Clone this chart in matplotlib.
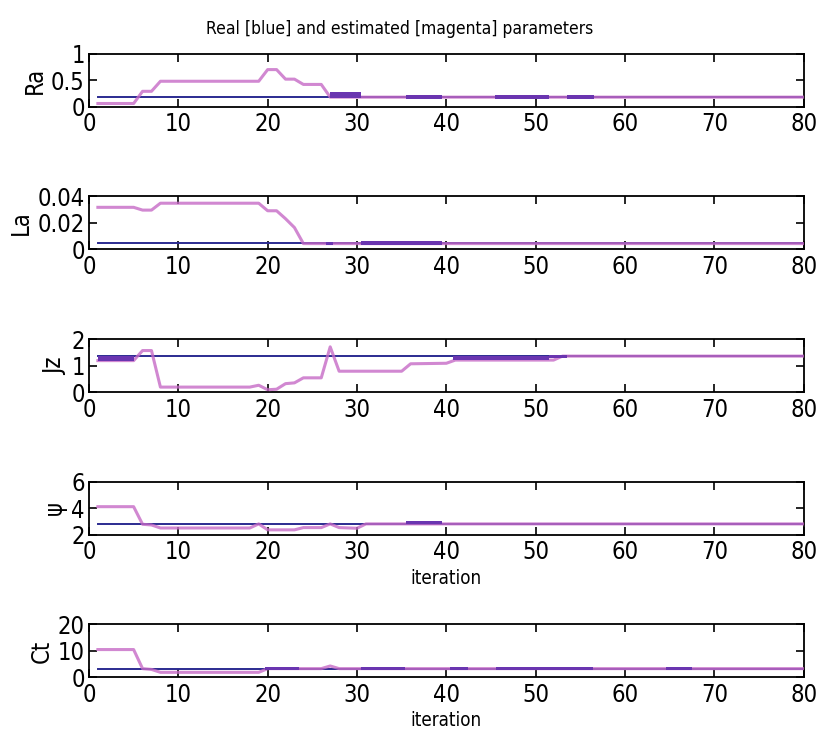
import matplotlib.pyplot as plt

# iteration range of the real (constant) parameter lines
iter_span = [1, 80]

# Ra
ra_real = 0.18
ra_est_x = [1, 5, 6, 7, 8, 19, 20, 21, 22, 23, 24, 26, 27, 80]
ra_est_y = [0.06, 0.06, 0.29, 0.29, 0.48, 0.48, 0.70, 0.70, 0.52, 0.52, 0.42, 0.42, 0.18, 0.18]
ra_bands = [(27, 30.5, 0.17, 0.27), (35.5, 39.5, 0.15, 0.22),
            (45.5, 51.5, 0.15, 0.22), (53.5, 56.5, 0.15, 0.22)]

# La
la_real = 0.0045
la_est_x = [1, 5, 6, 7, 8, 19, 20, 21, 22, 23, 24, 80]
la_est_y = [0.0316, 0.0316, 0.0295, 0.0295, 0.0347, 0.0347, 0.029, 0.029, 0.023, 0.0163, 0.0042, 0.0042]
la_bands = [(26.5, 27.3, 0.0028, 0.0055), (30.5, 39.5, 0.003, 0.006)]

# Jz
jz_real = 1.37
jz_est_x = [1, 5, 6, 7, 8, 18, 19, 20, 21, 22, 23, 24, 26, 27, 28, 35, 36, 40, 41, 52, 53, 80]
jz_est_y = [1.2, 1.2, 1.58, 1.58, 0.2, 0.2, 0.27, 0.1, 0.12, 0.33, 0.36, 0.55, 0.55, 1.72,
            0.8, 0.8, 1.08, 1.1, 1.22, 1.22, 1.37, 1.37]
jz_bands = [(1, 5, 1.2, 1.38), (40.7, 51.5, 1.22, 1.38), (51.5, 53.5, 1.3, 1.43)]

# psi
psi_real = 2.83
psi_est_x = [1, 5, 6, 7, 8, 18, 19, 20, 23, 24, 26, 27, 28, 30, 31, 80]
psi_est_y = [4.13, 4.13, 2.8, 2.75, 2.52, 2.52, 2.83, 2.38, 2.38, 2.55, 2.55, 2.83,
             2.55, 2.5, 2.83, 2.83]
psi_bands = [(35.5, 39.5, 2.8, 3.05)]

# Ct
ct_real = 3.3
ct_est_x = [1, 5, 6, 7, 8, 19, 20, 26, 27, 28, 80]
ct_est_y = [10.5, 10.5, 3.3, 3.0, 1.9, 1.9, 3.3, 3.3, 4.3, 3.3, 3.3]
ct_bands = [(19.7, 23.5, 2.6, 4.0), (30.5, 35.4, 2.6, 4.0), (40.4, 42.4, 2.6, 4.0),
            (45.6, 56.4, 2.6, 4.0), (64.6, 67.5, 2.6, 4.0)]

names = ['Ra', 'La', 'Jz', 'ψ', 'Ct']
ylims = [(0, 1), (0, 0.04), (0, 2), (2, 6), (0, 20)]
yticks = [[0, 0.5, 1], [0, 0.02, 0.04], [0, 1, 2], [2, 4, 6], [0, 10, 20]]
yticklabels = [['0', '0.5', '1'], ['0', '0.02', '0.04'], ['0', '1', '2'],
               ['2', '4', '6'], ['0', '10', '20']]
reals = [ra_real, la_real, jz_real, psi_real, ct_real]
ests = [(ra_est_x, ra_est_y), (la_est_x, la_est_y), (jz_est_x, jz_est_y),
        (psi_est_x, psi_est_y), (ct_est_x, ct_est_y)]
bands = [ra_bands, la_bands, jz_bands, psi_bands, ct_bands]

plt.rcParams['font.family'] = ['DejaVu Sans']
plt.rcParams['font.stretch'] = 'condensed'

fig = plt.figure(figsize=(8.16, 7.46), dpi=100)
bottoms = [0.857, 0.666, 0.474, 0.283, 0.092]
height = 0.071

for i in range(5):
    ax = fig.add_axes([0.109, bottoms[i], 0.876, height])
    ax.plot(iter_span, [reals[i]] * 2, color='#2b2b90', lw=1.4, zorder=2)
    ax.plot(ests[i][0], ests[i][1], color='#c66ac6', lw=2.2, alpha=0.8, zorder=3)
    for x0, x1, lo, hi in bands[i]:
        ax.fill_between([x0, x1], [lo, lo], [hi, hi], color='#6a35b0',
                        lw=0, zorder=4)
    ax.set_xlim(0, 80)
    ax.set_ylim(*ylims[i])
    ax.set_xticks(range(0, 81, 10))
    ax.set_yticks(yticks[i])
    ax.set_yticklabels(yticklabels[i])
    ax.tick_params(direction='in', top=True, right=True, length=6, width=1.2, pad=4)
    ax.tick_params(axis='x', labelsize=17)
    ax.tick_params(axis='y', labelsize=17, pad=3)
    for s in ax.spines.values():
        s.set_linewidth(1.3)
    ax.set_ylabel(names[i], fontsize=17, labelpad=3)
    if i == 0:
        ax.set_title('Real [blue] and estimated [magenta] parameters',
                     fontsize=12.5, pad=14, x=0.434)
    if i >= 3:
        ax.set_xlabel('iteration', fontsize=13.5, labelpad=3)

fig.savefig('out.png', dpi=100)
